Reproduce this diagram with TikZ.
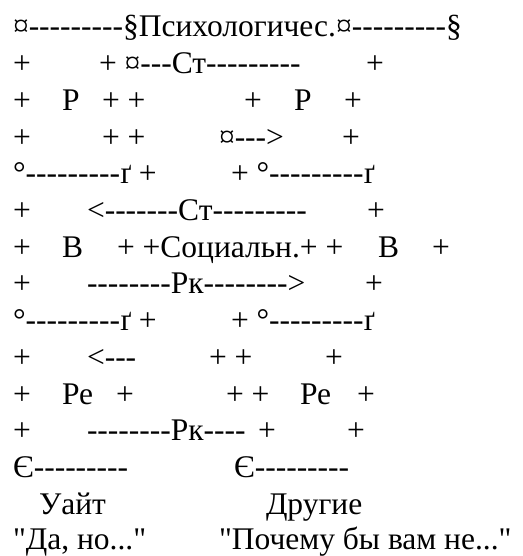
\documentclass[tikz,border=0pt]{standalone}
\usepackage{fontspec}
\setmainfont{Liberation Serif}[Ligatures=TeXOff]
\usepackage{tikz}
\tikzset{
  ascii/.style={anchor=base west, inner sep=0pt, outer sep=0pt, font=\fontsize{31.5}{36}\selectfont},
}

\begin{document}
\begin{tikzpicture}[x=1pt, y=-1pt]
\useasboundingbox (0,0) rectangle (522,556);
% row 1
\node[ascii] (head) at (13,37) {¤---------§Психологичес.¤---------§};
% row 2
\node[ascii] (r2a) at (13,73.7) {+};
\node[ascii] (r2b) at (99,73.7) {+ ¤---Ст---------};
\node[ascii] (r2c) at (366,73.7) {+};
% row 3
\node[ascii] (r3a) at (13,110.4) {+};
\node[ascii] (pl) at (62,110.4) {Р};
\node[ascii] (r3b) at (102,110.4) {+ +};
\node[ascii] (r3c) at (244,110.4) {+};
\node[ascii] (pr) at (294,110.4) {Р};
\node[ascii] (r3d) at (344,110.4) {+};
% row 4
\node[ascii] (r4a) at (13,147.1) {+};
\node[ascii] (r4b) at (102,147.1) {+ +};
\node[ascii] (r4c) at (219,147.1) {¤--->};
\node[ascii] (r4d) at (342,147.1) {+};
% row 5
\node[ascii] (r5a) at (13,183.8) {°---------ґ +};
\node[ascii] (r5b) at (231,183.8) {+ °---------ґ};
% row 6
\node[ascii] (r6a) at (13,220.5) {+};
\node[ascii] (r6b) at (87,220.5) {<-------Ст---------};
\node[ascii] (r6c) at (367,220.5) {+};
% row 7
\node[ascii] (r7a) at (13,257.2) {+};
\node[ascii] (bl) at (62,257.2) {В};
\node[ascii] (soc) at (117,257.2) {+ +Социальн.+ +};
\node[ascii] (br) at (378,257.2) {В};
\node[ascii] (r7b) at (432,257.2) {+};
% row 8
\node[ascii] (r8a) at (13,293.9) {+};
\node[ascii] (r8b) at (87,293.9) {--------Рк-------->};
\node[ascii] (r8c) at (365,293.9) {+};
% row 9
\node[ascii] (r9a) at (13,330.6) {°---------ґ +};
\node[ascii] (r9b) at (231,330.6) {+ °---------ґ};
% row 10
\node[ascii] (r10a) at (13,367.3) {+};
\node[ascii] (r10b) at (87,367.3) {<---};
\node[ascii] (r10c) at (209,367.3) {+ +};
\node[ascii] (r10d) at (325,367.3) {+};
% row 11
\node[ascii] (r11a) at (13,404) {+};
\node[ascii] (pel) at (62,404) {Ре};
\node[ascii] (r11b) at (116,404) {+};
\node[ascii] (r11c) at (226,404) {+ +};
\node[ascii] (per) at (300,404) {Ре};
\node[ascii] (r11d) at (357,404) {+};
% row 12
\node[ascii] (r12a) at (13,440.7) {+};
\node[ascii] (r12b) at (87,440.7) {--------Рк----};
\node[ascii] (r12c) at (258,440.7) {+};
\node[ascii] (r12d) at (347,440.7) {+};
% row 13
\node[ascii] (r13a) at (13,477.4) {Є---------};
\node[ascii] (r13b) at (234,477.4) {Є---------};
% names and phrases
\node[ascii] (white) at (39,514.1) {Уайт};
\node[ascii] (others) at (266,514.1) {Другие};
\node[ascii] (yesbut) at (13,549) {"Да, но..."};
\node[ascii] (whynot) at (219,549) {"Почему бы вам не..."};
\end{tikzpicture}
\end{document}
